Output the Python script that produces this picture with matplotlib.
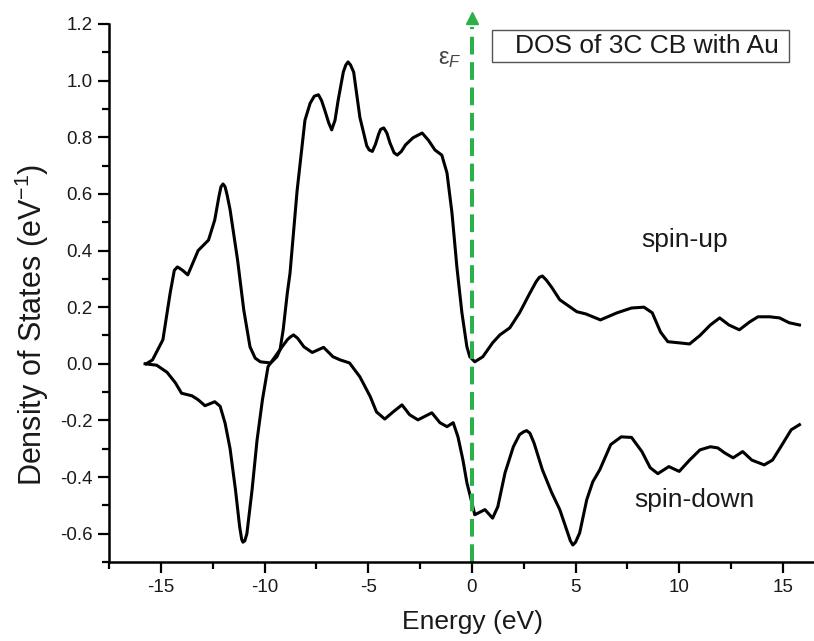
import matplotlib
matplotlib.use('Agg')
import matplotlib.pyplot as plt
from matplotlib.ticker import MultipleLocator, FormatStrFormatter
from matplotlib.patches import Rectangle

############################### Constants ######################################
TITLE = 'DOS of 3C CB with Au'
LABEL_X = 'Energy (eV)'
LABEL_Y = 'Density of States (eV$^{-1}$)'
GREEN = '#2bb04a'
TEXT_C = '#1a1a1a'

############################### Data ###########################################
# spin-up DOS
energy_up = [-15.7, -15.4, -14.9, -14.55, -14.35, -14.2, -14.05, -13.95, -13.7, -13.2,
             -12.7, -12.4, -12.2, -12.1, -12.0, -11.9, -11.8, -11.66, -11.3, -11.0,
             -10.7, -10.45, -10.2, -9.7, -9.4, -9.25, -9.1, -8.9, -8.77, -8.43,
             -8.05, -7.8, -7.6, -7.4, -7.25, -7.1, -6.9, -6.76, -6.6, -6.45,
             -6.2, -6.08, -5.97, -5.85, -5.7, -5.4, -5.07, -4.95, -4.8, -4.65,
             -4.5, -4.4, -4.25, -4.1, -3.95, -3.75, -3.6, -3.4, -3.2, -2.84,
             -2.4, -2.1, -1.78, -1.45, -1.2, -0.96, -0.72, -0.48, -0.24, -0.1,
             0.14, 0.53, 1.0, 1.35, 1.83, 2.3, 2.8, 3.1, 3.25, 3.4,
             3.6, 3.85, 4.24, 5.06, 5.5, 6.2, 7.0, 7.7, 8.3, 8.7,
             9.1, 9.45, 10.0, 10.5, 11.0, 11.5, 11.95, 12.4, 12.9, 13.4,
             13.8, 14.36, 14.84, 15.3, 15.8]
dos_up = [0.0, 0.014, 0.085, 0.25, 0.33, 0.342, 0.335, 0.33, 0.314, 0.40,
          0.437, 0.508, 0.59, 0.625, 0.635, 0.625, 0.595, 0.544, 0.367, 0.19,
          0.06, 0.02, 0.007, 0.003, 0.025, 0.05, 0.12, 0.25, 0.32, 0.61,
          0.86, 0.92, 0.945, 0.95, 0.93, 0.897, 0.85, 0.826, 0.86, 0.93,
          1.03, 1.055, 1.066, 1.055, 1.03, 0.87, 0.77, 0.755, 0.75, 0.775,
          0.81, 0.828, 0.833, 0.815, 0.78, 0.745, 0.737, 0.75, 0.773, 0.798,
          0.815, 0.79, 0.755, 0.737, 0.674, 0.533, 0.34, 0.18, 0.06, 0.025,
          0.007, 0.025, 0.074, 0.102, 0.127, 0.18, 0.25, 0.29, 0.305, 0.31,
          0.295, 0.27, 0.226, 0.184, 0.176, 0.155, 0.18, 0.197, 0.2, 0.18,
          0.112, 0.078, 0.074, 0.07, 0.1, 0.137, 0.162, 0.137, 0.12, 0.148,
          0.166, 0.166, 0.162, 0.145, 0.137]

# spin-down DOS
energy_dn = [-15.76, -15.2, -14.7, -14.3, -14.0, -13.5, -13.2, -12.87, -12.4, -12.14,
             -11.9, -11.66, -11.4, -11.2, -11.1, -11.04, -10.95, -10.85, -10.6, -10.36,
             -10.1, -9.83, -9.6, -9.25, -8.9, -8.75, -8.6, -8.4, -8.1, -7.7,
             -7.15, -6.7, -6.36, -5.9, -5.4, -4.9, -4.6, -4.2, -3.8, -3.37,
             -3.0, -2.6, -1.93, -1.54, -1.2, -0.9, -0.67, -0.43, -0.24, 0.0,
             0.14, 0.63, 1.0, 1.25, 1.6, 2.0, 2.3, 2.5, 2.64, 2.8,
             3.0, 3.4, 3.85, 4.24, 4.57, 4.75, 4.87, 5.0, 5.2, 5.54,
             5.83, 6.17, 6.7, 7.2, 7.7, 8.2, 8.6, 8.97, 9.5, 10.0,
             10.5, 11.0, 11.5, 11.86, 12.2, 12.6, 13.06, 13.5, 14.1, 14.5,
             14.9, 15.4, 15.8]
dos_dn = [0.0, -0.005, -0.03, -0.067, -0.104, -0.113, -0.127, -0.148, -0.134, -0.15,
          -0.21, -0.30, -0.445, -0.575, -0.62, -0.63, -0.625, -0.6, -0.445, -0.27,
          -0.127, -0.01, 0.014, 0.05, 0.085, 0.095, 0.102, 0.09, 0.06, 0.04,
          0.058, 0.025, 0.014, 0.003, -0.046, -0.116, -0.17, -0.195, -0.17, -0.145,
          -0.18, -0.198, -0.173, -0.208, -0.222, -0.208, -0.258, -0.34, -0.42, -0.49,
          -0.533, -0.515, -0.545, -0.505, -0.385, -0.293, -0.25, -0.24, -0.236, -0.245,
          -0.28, -0.374, -0.455, -0.515, -0.586, -0.625, -0.64, -0.63, -0.597, -0.48,
          -0.417, -0.374, -0.285, -0.258, -0.26, -0.31, -0.367, -0.388, -0.363, -0.38,
          -0.34, -0.304, -0.293, -0.297, -0.315, -0.332, -0.31, -0.34, -0.357, -0.34,
          -0.293, -0.233, -0.215]

fermi = 0.0

############################### Plot ###########################################
plt.rcParams['font.family'] = ['Liberation Sans', 'DejaVu Sans']
plt.rcParams['axes.unicode_minus'] = False
plt.rcParams['mathtext.fontset'] = 'custom'
plt.rcParams['mathtext.rm'] = 'Liberation Sans'
plt.rcParams['mathtext.it'] = 'Liberation Sans:italic'

fig = plt.figure(figsize=(8.14, 6.41), dpi=100)
ax = fig.add_axes([0.1339, 0.1232, 0.8661, 0.8394])

ax.plot(energy_up, dos_up, c='k', lw=2.2, solid_joinstyle='round')
ax.plot(energy_dn, dos_dn, c='k', lw=2.2, solid_joinstyle='round')

# fermi level: dashed green line with arrow head on top
line, = ax.plot([fermi, fermi], [-0.7, 1.19], c=GREEN, lw=2.9, clip_on=False)
line.set_dashes((4.4, 1.9))
ax.plot([fermi], [1.222], marker='^', ms=9, c=GREEN, clip_on=False)
ax.text(-1.05, 1.075, 'ε$_{F}$', fontsize=17, color='#444444', ha='center', va='center')

ax.set_xlim(-17.5, 16.5)
ax.set_ylim(-0.7, 1.2)

for s in ['top', 'right']:
    ax.spines[s].set_visible(False)
for s in ['left', 'bottom']:
    ax.spines[s].set_linewidth(1.8)

ax.xaxis.set_major_locator(MultipleLocator(5))
ax.xaxis.set_minor_locator(MultipleLocator(2.5))
ax.yaxis.set_major_locator(MultipleLocator(0.2))
ax.yaxis.set_minor_locator(MultipleLocator(0.1))
ax.yaxis.set_major_formatter(FormatStrFormatter('%.1f'))
ax.tick_params(which='major', direction='out', length=8, width=1.6,
               labelsize=13.5, labelcolor=TEXT_C, pad=4)
ax.tick_params(which='minor', direction='out', length=5, width=1.6)

ax.set_xlabel(LABEL_X, fontsize=19, color=TEXT_C)
ax.set_ylabel(LABEL_Y, fontsize=22, color=TEXT_C)
ax.xaxis.set_label_coords(0.515, -0.09)
ax.yaxis.set_label_coords(-0.082, 0.44)

# title box
ax.add_patch(Rectangle((0.543, 0.929), 0.4215, 0.06, transform=ax.transAxes,
                       fill=False, ec='#555555', lw=1.0, clip_on=False))
ax.text(0.576, 0.959, TITLE, transform=ax.transAxes, fontsize=19,
        color=TEXT_C, ha='left', va='center')

ax.text(0.816, 0.598, 'spin-up', transform=ax.transAxes, fontsize=19,
        color=TEXT_C, ha='center', va='center')
ax.text(0.831, 0.115, 'spin-down', transform=ax.transAxes, fontsize=19,
        color=TEXT_C, ha='center', va='center')

fig.savefig('out.png', dpi=100)
